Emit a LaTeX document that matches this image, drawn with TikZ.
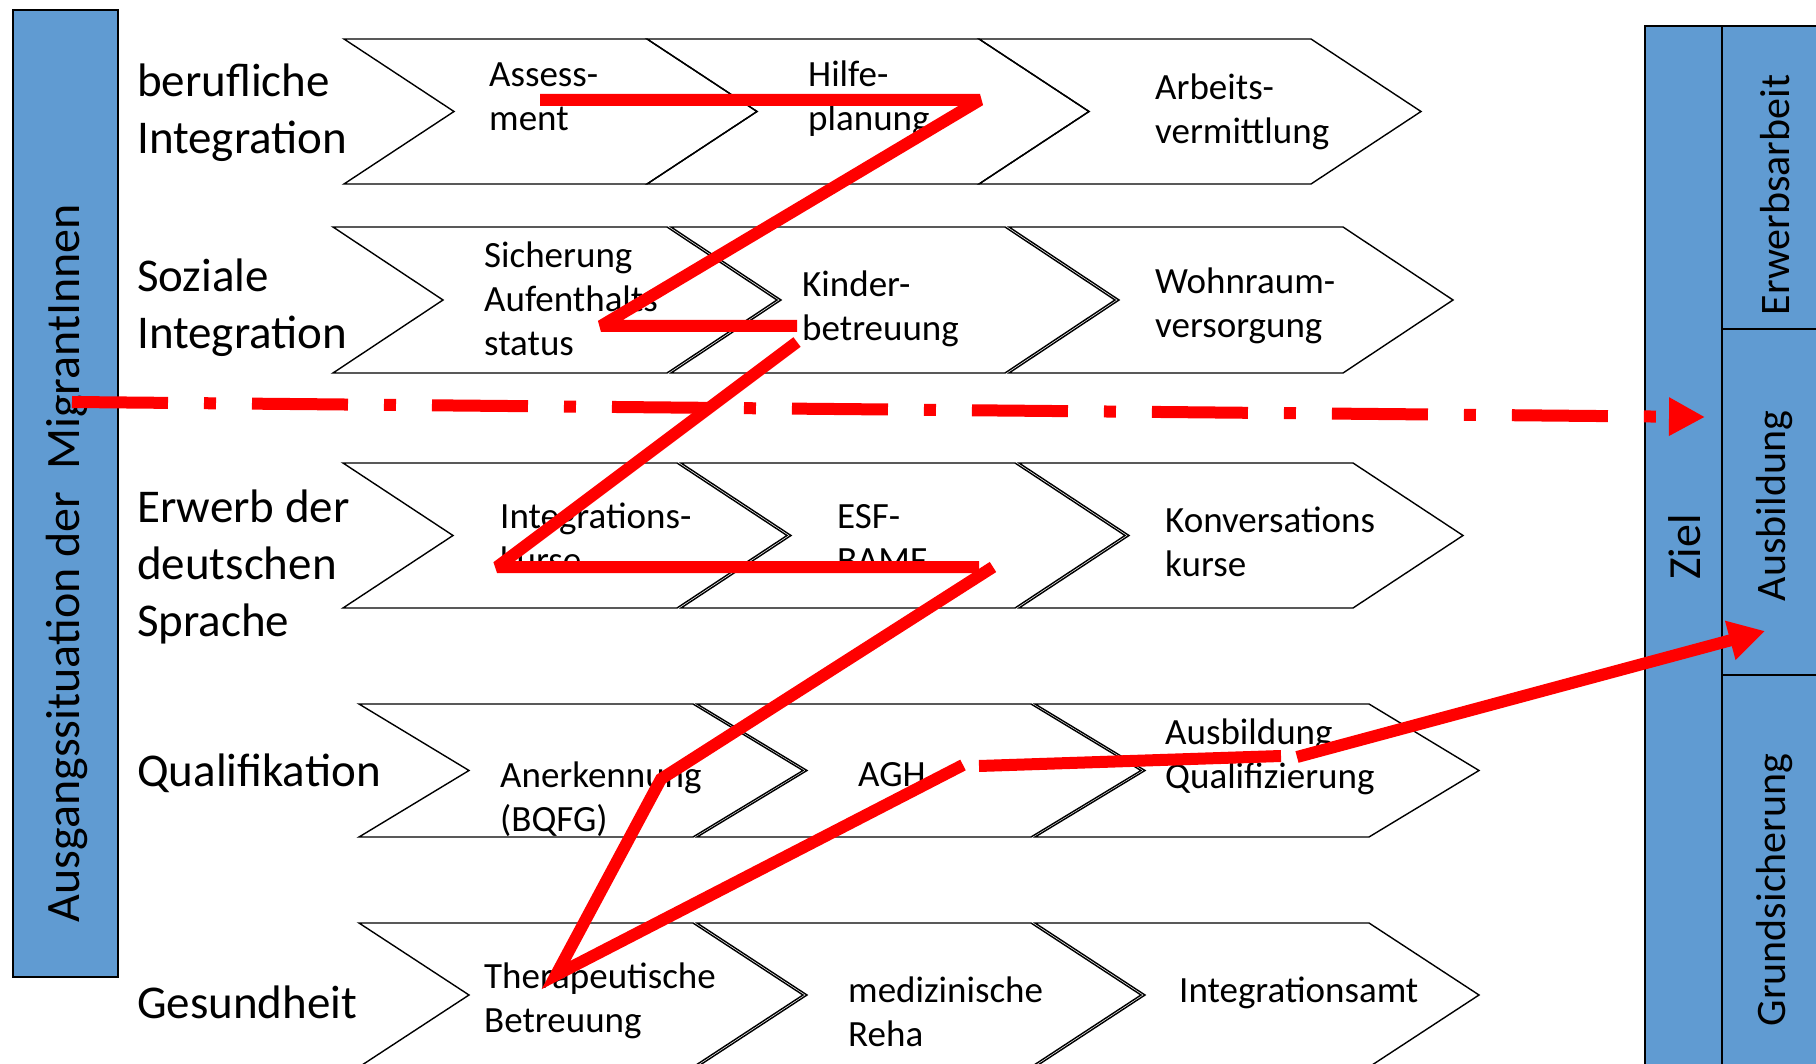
\documentclass[tikz,border=0pt]{standalone}
\usepackage{fontspec}
\setmainfont{Carlito}
\usepackage{xcolor}
\usetikzlibrary{arrows.meta}

\definecolor{zielblau}{RGB}{96,155,210}
\definecolor{wegrot}{RGB}{255,0,0}

% chevron: left x, top y, bottom y, top edge width
\newcommand{\chev}[4]{%
  \draw[chevline] (#1,#2) -- (#1+#4,#2) -- (#1+#4+110,{(#2+#3)/2})
    -- (#1+#4,#3) -- (#1,#3) -- (#1+110,{(#2+#3)/2}) -- cycle;}

\begin{document}
\begin{tikzpicture}[x=1pt, y=-1pt,
  chevline/.style={draw=black, line width=1.4pt, line join=miter},
  rowlabel/.style={anchor=base west, align=left, inner sep=0pt,
                   font=\fontsize{47}{57}\selectfont},
  chevtext/.style={anchor=base west, align=left, inner sep=0pt,
                   font=\fontsize{37}{44}\selectfont},
  sidebox/.style={draw=black, fill=zielblau, line width=1.8pt,
                  inner sep=0pt, anchor=north west},
  sidetext/.style={rotate=90, inner sep=0pt, font=\fontsize{42}{50}\selectfont},
  weg/.style={draw=wegrot, line width=12pt, line join=bevel},
]
\clip (0,0) rectangle (1816,1064);

% side boxes
\node[sidebox, minimum width=105, minimum height=967] (ausgang) at (12,9) {};
\node[sidebox, minimum width=77, minimum height=1100] (ziel) at (1644,25) {};
\node[sidebox, minimum width=120, minimum height=303] (erwerb) at (1721,25) {};
\node[sidebox, minimum width=120, minimum height=346] (ausb) at (1721,328) {};
\node[sidebox, minimum width=120, minimum height=450] (grund) at (1721,674) {};

\node[sidetext, font=\fontsize{48}{56}\selectfont] (ausgang-t) at (67,563)
  {Ausgangssituation der~~MigrantInnen};
\node[sidetext, font=\fontsize{46}{54}\selectfont] (ziel-t) at (1685,547) {Ziel};
\node[sidetext] (erwerb-t) at (1775,195) {Erwerbsarbeit};
\node[sidetext] (ausb-t)   at (1775,506) {Ausbildung};
\node[sidetext] (grund-t)  at (1775,890) {Grundsicherung};

% chevron rows
\chev{344}{39}{184}{303} \chev{647}{39}{184}{332} \chev{979}{39}{184}{332}
\chev{333}{227}{373}{334} \chev{671}{227}{373}{334} \chev{1009}{227}{373}{334}
\chev{343}{463}{608}{334} \chev{681}{463}{608}{334} \chev{1019}{463}{608}{334}
\chev{359}{704}{837}{334} \chev{697}{704}{837}{334} \chev{1035}{704}{837}{334}
\chev{359}{923}{1067}{334} \chev{697}{923}{1067}{334} \chev{1035}{923}{1067}{334}

% row labels (base = last line)
\node[rowlabel] (beruf)   at (137,154)  {berufliche\\Integration};
\node[rowlabel] (sozial)  at (137,349)  {Soziale\\Integration};
\node[rowlabel] (sprache) at (137,636)  {Erwerb der\\deutschen\\Sprache};
\node[rowlabel] (quali)   at (137,786)  {Qualifikation};
\node[rowlabel] (gesund)  at (137,1018) {Gesundheit};

% chevron texts
\node[chevtext] (assess)    at (489,131)  {Assess-\\ment};
\node[chevtext] (hilfe)     at (808,131)  {Hilfe-\\planung};
\node[chevtext] (arbeit)    at (1155,144) {Arbeits-\\vermittlung};
\node[chevtext] (sicherung) at (484,356)  {Sicherung\\Aufenthalts\\status};
\node[chevtext] (kinder)    at (802,341)  {Kinder-\\betreuung};
\node[chevtext] (wohnraum)  at (1155,338) {Wohnraum-\\versorgung};
\node[chevtext] (intkurs)   at (500,572)  {Integrations-\\kurse};
\node[chevtext] (esf)       at (837,572)  {ESF-\\BAMF};
\node[chevtext] (konv)      at (1165,576) {Konversations\\kurse};
\node[chevtext] (anerk)     at (500,831)  {Anerkennung\\(BQFG)};
\node[chevtext] (agh)       at (858,786)  {AGH};
\node[chevtext] (ausbquali) at (1165,788) {Ausbildung\\Qualifizierung};
\node[chevtext] (therap)    at (484,1032) {Therapeutische\\Betreuung};
\node[chevtext] (reha)      at (848,1046) {medizinische\\Reha};
\node[chevtext] (intamt)    at (1179,1002) {Integrationsamt};

% red path points
\coordinate (w1) at (540,100);  \coordinate (w2) at (980,100);
\coordinate (w3) at (601,326);  \coordinate (w4) at (797,326);
\coordinate (w5) at (797,342);  \coordinate (w6) at (497,567);
\coordinate (w7) at (979,567);
\coordinate (w8) at (993,567);  \coordinate (w9) at (661,779);
\coordinate (w10) at (556,975); \coordinate (w11) at (963,765);
\coordinate (w12) at (979,766); \coordinate (w13) at (1281,756);
\coordinate (w14) at (1297,757); \coordinate (w15) at (1765,631);
\coordinate (d1) at (72,402);   \coordinate (d2) at (1705,417);

\draw[weg] (w1) -- (w2) -- (w3) -- (w4);
\draw[weg] (w5) -- (w6) -- (w7);
\draw[weg, line join=miter] (w8) -- (w9) -- (w10) -- (w11);
\draw[weg] (w12) -- (w13);
\draw[weg, -{Triangle[length=36pt, width=38pt]}] (w14) -- (w15);
\draw[weg, dash pattern=on 96pt off 36pt on 12pt off 36pt,
      -{Triangle[length=36pt, width=36pt]}] (d1) -- (d2);
\end{tikzpicture}
\end{document}
